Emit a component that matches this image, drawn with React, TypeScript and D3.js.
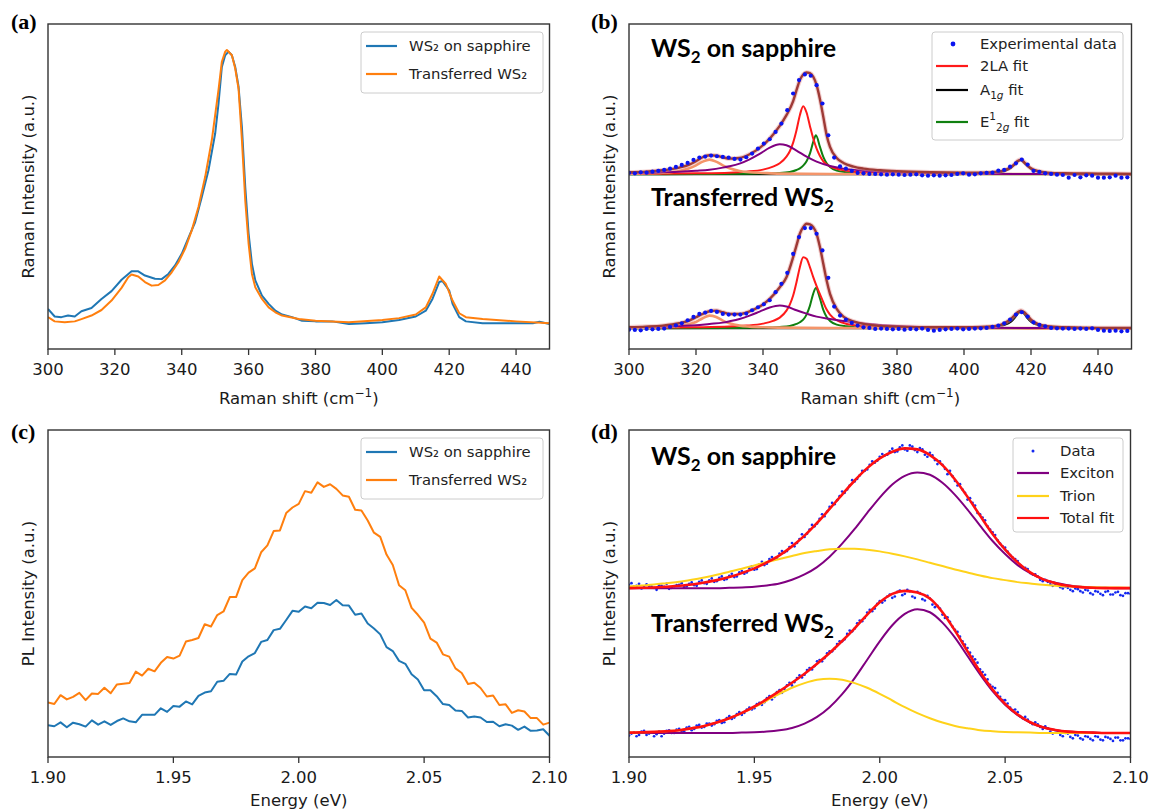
import React from 'react';
import * as d3 from 'd3';

// ---------------- DATA ----------------
// Panel (a): Raman spectra (normalised intensity)
const aBlueX = [300,302,304,306,308,310,313,316,319,322,325,327,329,332,334,336,338,340,342,344,346,348,350,351,352,353,354,355,356,357,358,359,360,361,362,364,366,368,370,373,376,380,385,390,395,400,405,410,413,415,417,418,420,421,423,425,430,435,440,445,447,450];
const aBlueY = [.123,.10,.098,.103,.10,.116,.126,.154,.178,.213,.239,.239,.226,.216,.215,.231,.257,.293,.342,.39,.468,.55,.663,.755,.868,.904,.915,.904,.868,.807,.683,.498,.355,.262,.211,.164,.139,.118,.106,.098,.087,.085,.085,.077,.079,.082,.089,.10,.118,.154,.206,.209,.18,.139,.098,.085,.079,.079,.079,.079,.084,.077];
const aOrangeX = [300,302,305,308,310,313,316,319,322,324,325,327,329,331,333,335,337,339,341,343,345,347,349,351,352,353,353.5,355,356,357,358,359,360,361,362,364,366,368,370,375,380,390,400,405,410,413,415,417,419,421,423,425,430,440,450];
const aOrangeY = [.098,.085,.082,.085,.092,.103,.12,.149,.188,.221,.229,.223,.206,.195,.197,.211,.236,.267,.308,.365,.437,.529,.643,.797,.884,.915,.92,.904,.863,.8,.643,.457,.324,.231,.19,.154,.128,.113,.103,.092,.087,.082,.089,.095,.106,.128,.17,.223,.2,.149,.11,.098,.092,.085,.079];

// Panel (b): fits (arbitrary units)
const bGrid = [300,305,310,315,318,320,322,324,326,328,330,333,336,339,342,345,347,349,350,351,352,353,354,355,356,357,358,359,360,362,364,367,370,375,380,390,400,405,410,412,414,415,416,417,418,419,420,422,425,430,440,450];
const bTopTotal = [529,531,535,543,552,562,574,580,579,574,570,572,583,602,630,668,700,742,775,805,822,828,826,815,790,748,695,640,605,572,557,546,540,535,532,529,528,528,531,535,544,553,563,567,559,549,541,533,528,526,525,524];
const bBotTotal = [65,67,70,77,85,95,105,113,115,110,105,105,113,127,150,185,215,275,310,345,365,375,373,365,345,305,255,205,165,120,97,83,75,69,67,65,65,66,70,77,90,100,110,115,110,100,88,75,68,65,63,63];

const bTopRedX = [300,310,320,330,335,340,343,345,347,348,349,350,351,352,353,354,355,356,357,358,360,363,367,375,390,420,450];
const bTopRedY = [524,525,526,528,531,537,546,556,576,592,618,655,700,727,708,668,630,600,578,562,547,537,531,527,525,524,523];
const bTopGreenX = [300,320,335,340,345,348,350,351,352,353,354,355,355.8,357,358,359,360,362,365,370,380,450];
const bTopGreenY = [523,524,525,526,527,530,536,541,549,562,585,620,640,605,575,556,545,534,529,526,524,523];
const bTopPurpleX = [300,305,310,315,320,324,328,330,333,336,339,342,345,347,350,353,356,360,364,370,380,390,400,420,450];
const bTopPurpleY = [527,527,529,531,534,537,543,547,555,568,584,603,613,610,594,576,561,548,540,534,529,527,525,524,524];
const bTopCoralX = [300,305,310,315,318,320,322,324,326,328,330,333,336,340,345,360,450];
const bTopCoralY = [525,526,528,533,541,550,561,567,561,550,541,533,529,527,525,524,524];
const bTopBlackX = [300,390,400,405,410,412,414,415,416,417,418,419,420,422,425,430,440,450];
const bTopBlackY = [523,523,524,525,528,532,542,551,561,565,557,547,539,531,527,525,523,523];

const bBotRedX = [300,310,320,330,335,340,343,345,347,348,349,350,351,352,353,354,355,356,357,358,359,360,362,365,370,380,400,450];
const bBotRedY = [63,64,65,67,70,76,84,94,115,133,160,200,245,275,270,245,215,188,164,140,118,103,86,75,69,65,63,62];
const bBotGreenX = [300,330,340,345,348,350,351,352,353,354,355,355.8,357,358,359,360,362,365,370,380,450];
const bBotGreenY = [62,63,64,66,69,75,80,88,103,129,166,183,151,117,96,84,73,68,64,63,62];
const bBotPurpleX = [300,305,310,315,320,324,328,330,333,336,339,342,345,347,350,353,356,360,364,367,370,375,380,390,400,420,450];
const bBotPurpleY = [65,66,67,69,71,75,79,83,90,100,112,124,130,127,116,106,97,90,84,80,76,72,69,65,64,63,63];
const bBotCoralX = [300,305,310,315,318,320,322,324,326,328,330,333,336,340,345,360,450];
const bBotCoralY = [63,64,65,69,75,81,92,100,96,85,77,70,67,65,64,63,62];
const bBotBlackX = [300,395,400,405,410,412,414,415,416,417,418,419,420,422,425,430,440,450];
const bBotBlackY = [62,62,63,64,68,72,82,92,105,112,105,92,82,72,66,64,62,62];

const bDataStart = 300;
const bDataStep = 1.75;
const bTopData = [527,526,529,528,531,533,536,540,545,551,557,566,573,576,579,577,575,573,569,567,
  574,585,600,615,628,650,675,715,765,805,822,818,790,735,640,573,547,540,533,
  527,526,524,524,523,522,523,522,521,522,523,520,519,520,519,520,521,524,526,522,523,526,527,528,534,536,546,556,567,552,533,530,526,524,522,521,513,521,514,520,519,513,513,514,519,513,514];
const bBotData = [58,57,56,60,59,60,61,66,71,77,86,96,105,109,114,111,105,103,103,103,
  106,116,125,134,146,170,195,228,285,335,362,362,345,295,213,127,100,88,78,70,
  65,63,60,61,60,59,60,58,60,59,61,57,55,57,59,60,61,59,60,61,
  62,63,66,70,77,88,103,110,97,80,72,68,63,62,61,61,60,61,60,62,57,55,54,55,53,54];

// Panel (c): PL spectra, sampled from 1.900 eV every 0.0025 eV
const cStart = 1.9;
const cStep = 0.0025;
const cOrange = [16.7,16.2,18.9,17.6,18.4,19.6,17.4,19.4,19.3,21.2,19.5,22.2,22.4,22.6,26.1,24.9,27.0,26.2,28.8,30.6,30.1,31.0,35.3,35.8,36.4,40.6,39.9,43.4,44.5,48.9,48.9,54.1,56.4,57.7,62.6,64.7,69.1,69.3,74.6,76.3,77.4,81.3,80.8,84.0,82.6,83.4,82.0,80.0,79.6,75.6,75.4,72.3,68.6,67.3,61.9,58.7,52.5,51.0,45.6,43.5,41.1,36.2,35.0,31.4,30.7,27.1,25.7,22.3,22.7,21.1,18.5,18.8,15.9,16.1,13.5,14.3,13.9,11.9,11.9,9.9,10.5];
const cBlue = [9.7,9.4,10.6,9.1,10.5,10.0,9.3,11.2,9.9,10.9,9.8,11.0,11.8,10.9,10.6,12.9,12.9,12.9,14.9,13.8,15.6,15.4,17.0,16.1,18.7,19.7,20.1,23.0,23.3,25.4,25.2,29.2,30.8,31.8,35.2,35.8,38.8,39.2,41.9,44.7,44.4,46.0,45.5,47.2,47.1,46.5,48.0,46.4,46.3,43.5,43.9,40.8,39.3,37.5,33.6,32.4,29.4,28.5,25.3,23.7,20.4,20.4,18.6,16.2,15.9,14.2,14.1,12.1,12.4,12.1,10.7,10.8,9.4,10.0,9.6,8.3,9.3,8.0,8.1,8.5,6.5];

// Panel (d): fits every 0.005 eV, data every 0.002 eV (two interleaved sample sets)
const dFitStart = 1.9;
const dFitStep = 0.005;
const dTopTotal = [505,506,507,509,512,516,522,529,538,550,564,582,603,630,662,700,742,785,827,864,893,913,923,920,903,873,830,778,722,667,620,582,552,532,520,512,508,506,505,505,505];
const dTopExciton = [505,505,505,505,505,505,505,505,506,507,509,513,519,530,546,568,599,638,682,730,776,815,841,851,844,820,784,740,692,646,607,574,550,532,521,514,509,507,506,505,505];
const dTopTrion = [510,513,516,520,524,530,537,545,554,563,573,583,592,601,610,616,621,623,623,620,615,608,600,591,581,571,561,552,543,535,529,523,519,515,512,510,509,508,507,507,506];
const dBotTotal = [73,74,75,77,80,86,93,103,116,132,151,173,197,222,249,279,311,347,385,426,463,488,497,492,474,433,378,316,255,202,159,127,104,89,81,76,74,73,72,72,72];
const dBotExciton = [72,72,72,72,72,72,72,72,72,73,74,76,80,87,100,120,149,188,236,291,346,394,428,442,433,402,357,302,247,197,156,125,103,89,81,76,74,73,72,72,72];
const dBotTrion = [73,74,75,77,80,86,93,103,116,131,149,169,189,207,221,231,234,231,221,207,189,169,149,131,116,103,93,86,80,77,75,74,73,72,72,72,72,72,72,72,72];
const dDataStart = 1.9;
const dDataStep = 0.002;
const dTopData = [515,510,518,508,512,506,514,509,503,511,515,508,518,514,524,520,528,524,536,530,542,538,552,548,564,560,576,574,592,590,608,612,628,630,652,658,680,690,712,720,748,756,780,790,812,824,842,856,874,880,898,902,914,912,926,920,932,918,924,904,910,888,884,862,856,826,816,790,774,752,726,708,680,664,638,626,604,592,574,566,550,546,530,530,516,518,508,510,500,504,496,500,490,496,488,494,486,492,484,490,488];
const dTopDataMid = [520,512,504,516,510,500,512,518,506,514,520,510,522,512,528,518,534,526,540,532,548,540,556,552,570,562,584,578,598,596,616,616,640,640,666,668,694,698,726,734,760,768,794,800,828,832,856,860,884,886,906,904,922,914,932,916,928,912,920,898,902,876,874,846,840,812,800,770,760,730,716,690,672,648,630,614,596,586,568,562,546,540,526,524,512,514,504,506,496,502,492,498,486,494,484,496,486,494,482,490];
const dBotData = [64,74,66,78,70,62,76,70,80,72,84,76,90,84,96,90,100,98,110,104,122,118,134,132,148,146,162,164,182,180,200,204,222,224,244,246,266,272,290,296,316,324,346,352,378,384,408,416,440,444,466,468,486,480,498,488,496,476,490,468,474,448,444,416,404,380,360,336,312,292,262,246,216,206,180,170,148,142,122,120,104,104,90,92,76,80,66,72,60,66,56,62,54,62,52,60,54,58,50,56,54];
const dBotDataMid = [70,62,76,66,74,68,62,78,72,82,78,88,80,94,88,100,94,108,102,116,114,128,126,142,142,158,156,176,172,194,192,214,214,236,238,260,262,286,286,310,316,338,346,368,376,400,406,432,436,458,462,480,476,494,484,500,480,494,472,482,456,452,426,418,390,374,346,326,300,282,254,232,210,192,170,160,140,134,116,112,98,98,84,86,70,76,62,70,56,64,52,60,50,60,50,58,48,58,50,56];

const ramanTicks = [300,320,340,360,380,400,420,440];
const energyTicks = [1.90,1.95,2.00,2.05,2.10];

// ---------------- LAYOUT ----------------
const FONT = "'DejaVu Sans', sans-serif";
const BOLD = "Lato, 'Open Sans', sans-serif";
const FA = { x0: 48, x1: 549.5, y0: 24, y1: 349 };
const FB = { x0: 629, x1: 1131.5, y0: 24, y1: 349 };
const FC = { x0: 48, x1: 549.5, y0: 430, y1: 757 };
const FD = { x0: 629, x1: 1130.5, y0: 430, y1: 757 };

const xA = d3.scaleLinear().domain([300, 450]).range([FA.x0, FA.x1]);
const yA = d3.scaleLinear().domain([0, 1]).range([FA.y1, FA.y0]);
const xB = d3.scaleLinear().domain([300, 450]).range([FB.x0, FB.x1]);
const yB = d3.scaleLinear().domain([0, 973]).range([FB.y1, FB.y0]);
const xC = d3.scaleLinear().domain([1.9, 2.1]).range([FC.x0, FC.x1]);
const yC = d3.scaleLinear().domain([0, 100]).range([FC.y1, FC.y0]);
const xD = d3.scaleLinear().domain([1.9, 2.1]).range([FD.x0, FD.x1]);
const yD = d3.scaleLinear().domain([0, 978]).range([FD.y1, FD.y0]);

function path(xs: number[], ys: number[], x: any, y: any, curve: any = d3.curveLinear) {
  return d3.line<number>().x((_, i) => x(xs[i])).y((v) => y(v)).curve(curve)(ys) || '';
}
const gridX = (start: number, step: number, n: number) => Array.from({ length: n }, (_, i) => start + i * step);

function Clip({ f, id }: any) {
  return <clipPath id={id}><rect x={f.x0} y={f.y0} width={f.x1 - f.x0} height={f.y1 - f.y0} /></clipPath>;
}
function Border({ f }: any) {
  return <rect x={f.x0} y={f.y0} width={f.x1 - f.x0} height={f.y1 - f.y0} fill="none" stroke="#333" strokeWidth={1.4} />;
}
function XAxis({ f, x, ticks, fmt }: any) {
  return (
    <g>
      {ticks.map((t: number) => (
        <g key={t}>
          <line x1={x(t)} x2={x(t)} y1={f.y1} y2={f.y1 + 6} stroke="#333" strokeWidth={1.3} />
          <text x={x(t)} y={f.y1 + 26} textAnchor="middle" fontSize={16.5} fontFamily={FONT} fill="#1a1a1a">{fmt(t)}</text>
        </g>
      ))}
    </g>
  );
}
function YTitle({ f, label }: any) {
  const cx = f.x0 - 14;
  const cy = (f.y0 + f.y1) / 2;
  return (
    <text transform={`translate(${cx},${cy}) rotate(-90)`} textAnchor="middle" fontSize={16.5} fontFamily={FONT} fill="#1a1a1a">{label}</text>
  );
}
function PanelTag({ x, y, t }: any) {
  return <text x={x} y={y} fontFamily="'Liberation Serif', 'Times New Roman', serif" fontWeight="bold" fontSize={22} fill="#000">{t}</text>;
}
function WS2({ x, y, transferred }: any) {
  return transferred ? (
    <text x={x} y={y} fontFamily={BOLD} fontWeight={700} fontSize={25} fill="#000">Transferred WS<tspan dy={6} fontSize={17}>2</tspan></text>
  ) : (
    <text x={x} y={y} fontFamily={BOLD} fontWeight={700} fontSize={25} fill="#000">WS<tspan dy={6} fontSize={17}>2</tspan><tspan dy={-6}> on sapphire</tspan></text>
  );
}
function TwoLegend({ x, y }: any) {
  return (
    <g fontFamily={FONT} fontSize={14.8} fill="#222">
      <rect x={x} y={y} width={182} height={61} rx={3} fill="#fff" fillOpacity={0.85} stroke="#cccccc" />
      <line x1={x + 5} x2={x + 36} y1={y + 14} y2={y + 14} stroke="#1f77b4" strokeWidth={2.2} />
      <text x={x + 48} y={y + 19}>WS₂ on sapphire</text>
      <line x1={x + 5} x2={x + 36} y1={y + 42} y2={y + 42} stroke="#ff7f0e" strokeWidth={2.2} />
      <text x={x + 48} y={y + 47}>Transferred WS₂</text>
    </g>
  );
}

export default function App() {
  const mono = d3.curveMonotoneX;
  const cX = gridX(cStart, cStep, cBlue.length);
  const dFX = gridX(dFitStart, dFitStep, dTopTotal.length);
  const dDX = gridX(dDataStart, dDataStep, dTopData.length);
  const dDXm = gridX(dDataStart + dDataStep / 2, dDataStep, dTopDataMid.length);
  const bDX = gridX(bDataStart, bDataStep, bTopData.length);

  const bStack = (red: any, green: any, purple: any, coral: any, black: any, total: number[]) => (
    <g fill="none" strokeLinejoin="round">
      <path d={path(black[0], black[1], xB, yB, mono)} stroke="#000" strokeWidth={2} />
      <path d={path(green[0], green[1], xB, yB, mono)} stroke="#108010" strokeWidth={2} />
      <path d={path(red[0], red[1], xB, yB, mono)} stroke="#ff1a1a" strokeWidth={2} />
      <path d={path(coral[0], coral[1], xB, yB, mono)} stroke="#f4956a" strokeWidth={2.6} />
      <path d={path(purple[0], purple[1], xB, yB, mono)} stroke="#800080" strokeWidth={2} />
      <path d={path(bGrid, total, xB, yB, mono)} stroke="#e8a0a0" strokeWidth={4.5} strokeOpacity={0.5} />
      <path d={path(bGrid, total, xB, yB, mono)} stroke="#9e3a36" strokeWidth={2.4} />
    </g>
  );

  const dot = (cx: number, cy: number, k: string) => <circle key={k} cx={cx} cy={cy} r={1.35} fill="#1428f0" />;

  return (
    <svg width={1151} height={811} style={{ position: 'absolute', left: 0, top: 0, background: '#fff' }}>
      <defs>
        <Clip f={FA} id="clipA" />
        <Clip f={FB} id="clipB" />
        <Clip f={FC} id="clipC" />
        <Clip f={FD} id="clipD" />
      </defs>
      <rect x={0} y={0} width={1151} height={811} fill="#fff" />

      {/* Panel (a) */}
      <g clipPath="url(#clipA)" fill="none" strokeLinejoin="round">
        <path d={path(aBlueX, aBlueY, xA, yA)} stroke="#1f77b4" strokeWidth={2} />
        <path d={path(aOrangeX, aOrangeY, xA, yA)} stroke="#ff7f0e" strokeWidth={2} />
      </g>
      <Border f={FA} />
      <XAxis f={FA} x={xA} ticks={ramanTicks} fmt={(t: number) => String(t)} />
      <text x={(FA.x0 + FA.x1) / 2} y={404} textAnchor="middle" fontSize={16.5} fontFamily={FONT} fill="#1a1a1a">Raman shift (cm<tspan dy={-7} fontSize={12}>−1</tspan><tspan dy={7}>)</tspan></text>
      <YTitle f={FA} label="Raman Intensity (a.u.)" />
      <TwoLegend x={361} y={32} />
      <PanelTag x={11} y={29} t="(a)" />

      {/* Panel (b) */}
      <g clipPath="url(#clipB)">
        {bStack([bTopRedX, bTopRedY], [bTopGreenX, bTopGreenY], [bTopPurpleX, bTopPurpleY], [bTopCoralX, bTopCoralY], [bTopBlackX, bTopBlackY], bTopTotal)}
        {bStack([bBotRedX, bBotRedY], [bBotGreenX, bBotGreenY], [bBotPurpleX, bBotPurpleY], [bBotCoralX, bBotCoralY], [bBotBlackX, bBotBlackY], bBotTotal)}
        {bTopData.map((v, i) => <circle key={'t' + i} cx={xB(bDX[i])} cy={yB(v)} r={2.1} fill="#0a14f0" />)}
        {bBotData.map((v, i) => <circle key={'b' + i} cx={xB(bDX[i])} cy={yB(v)} r={2.1} fill="#0a14f0" />)}
      </g>
      <Border f={FB} />
      <XAxis f={FB} x={xB} ticks={ramanTicks} fmt={(t: number) => String(t)} />
      <text x={(FB.x0 + FB.x1) / 2} y={404} textAnchor="middle" fontSize={16.5} fontFamily={FONT} fill="#1a1a1a">Raman shift (cm<tspan dy={-7} fontSize={12}>−1</tspan><tspan dy={7}>)</tspan></text>
      <YTitle f={FB} label="Raman Intensity (a.u.)" />
      <WS2 x={651} y={57} />
      <WS2 x={651} y={206} transferred />
      <g fontFamily={FONT} fontSize={14.8} fill="#222">
        <rect x={932} y={32} width={191} height={108} rx={3} fill="#fff" fillOpacity={0.85} stroke="#cccccc" />
        <circle cx={953} cy={44} r={2.4} fill="#0a14f0" />
        <text x={980} y={49}>Experimental data</text>
        <line x1={936} x2={968} y1={66} y2={66} stroke="#ff1a1a" strokeWidth={2.2} />
        <text x={980} y={71}>2LA fit</text>
        <line x1={936} x2={968} y1={90} y2={90} stroke="#000" strokeWidth={2.2} />
        <text x={980} y={95}>A<tspan dy={4} fontSize={10.5}>1</tspan><tspan fontSize={10.5} fontStyle="italic">g</tspan><tspan dy={-4}> fit</tspan></text>
        <line x1={936} x2={968} y1={122} y2={122} stroke="#108010" strokeWidth={2.2} />
        <text x={980} y={127}>E<tspan dy={-7} fontSize={10.5}>1</tspan><tspan dy={11} fontSize={10.5}>2</tspan><tspan fontSize={10.5} fontStyle="italic">g</tspan><tspan dy={-4}> fit</tspan></text>
      </g>
      <PanelTag x={591} y={29} t="(b)" />

      {/* Panel (c) */}
      <g clipPath="url(#clipC)" fill="none" strokeLinejoin="round">
        <path d={path(cX, cBlue, xC, yC)} stroke="#1f77b4" strokeWidth={2} />
        <path d={path(cX, cOrange, xC, yC)} stroke="#ff7f0e" strokeWidth={2} />
      </g>
      <Border f={FC} />
      <XAxis f={FC} x={xC} ticks={energyTicks} fmt={(t: number) => t.toFixed(2)} />
      <text x={(FC.x0 + FC.x1) / 2} y={806} textAnchor="middle" fontSize={16.5} fontFamily={FONT} fill="#1a1a1a">Energy (eV)</text>
      <YTitle f={FC} label="PL Intensity (a.u.)" />
      <TwoLegend x={361} y={438} />
      <PanelTag x={11} y={439} t="(c)" />

      {/* Panel (d) */}
      <g clipPath="url(#clipD)">
        {dTopData.map((v, i) => dot(xD(dDX[i]), yD(v), 'dt' + i))}
        {dTopDataMid.map((v, i) => dot(xD(dDXm[i]), yD(v), 'dtm' + i))}
        {dBotData.map((v, i) => dot(xD(dDX[i]), yD(v), 'db' + i))}
        {dBotDataMid.map((v, i) => dot(xD(dDXm[i]), yD(v), 'dbm' + i))}
        <g fill="none" strokeLinejoin="round">
          <path d={path(dFX, dTopExciton, xD, yD, mono)} stroke="#800080" strokeWidth={2} />
          <path d={path(dFX, dTopTrion, xD, yD, mono)} stroke="#ffd21a" strokeWidth={2} />
          <path d={path(dFX, dTopTotal, xD, yD, mono)} stroke="#ff1010" strokeWidth={2.6} />
          <path d={path(dFX, dBotExciton, xD, yD, mono)} stroke="#800080" strokeWidth={2} />
          <path d={path(dFX, dBotTrion, xD, yD, mono)} stroke="#ffd21a" strokeWidth={2} />
          <path d={path(dFX, dBotTotal, xD, yD, mono)} stroke="#ff1010" strokeWidth={2.6} />
        </g>
      </g>
      <Border f={FD} />
      <XAxis f={FD} x={xD} ticks={energyTicks} fmt={(t: number) => t.toFixed(2)} />
      <text x={(FD.x0 + FD.x1) / 2} y={806} textAnchor="middle" fontSize={16.5} fontFamily={FONT} fill="#1a1a1a">Energy (eV)</text>
      <YTitle f={FD} label="PL Intensity (a.u.)" />
      <WS2 x={651} y={465} />
      <WS2 x={651} y={632} transferred />
      <g fontFamily={FONT} fontSize={14.8} fill="#222">
        <rect x={1013} y={438} width={110} height={94} rx={3} fill="#fff" fillOpacity={0.85} stroke="#cccccc" />
        <circle cx={1033} cy={451} r={1.5} fill="#1428f0" />
        <text x={1060} y={456}>Data</text>
        <line x1={1017} x2={1049} y1={473} y2={473} stroke="#800080" strokeWidth={2.2} />
        <text x={1060} y={478}>Exciton</text>
        <line x1={1017} x2={1049} y1={496} y2={496} stroke="#ffd21a" strokeWidth={2.2} />
        <text x={1060} y={501}>Trion</text>
        <line x1={1017} x2={1049} y1={518} y2={518} stroke="#ff1010" strokeWidth={2.2} />
        <text x={1060} y={523}>Total fit</text>
      </g>
      <PanelTag x={591} y={439} t="(d)" />
    </svg>
  );
}
